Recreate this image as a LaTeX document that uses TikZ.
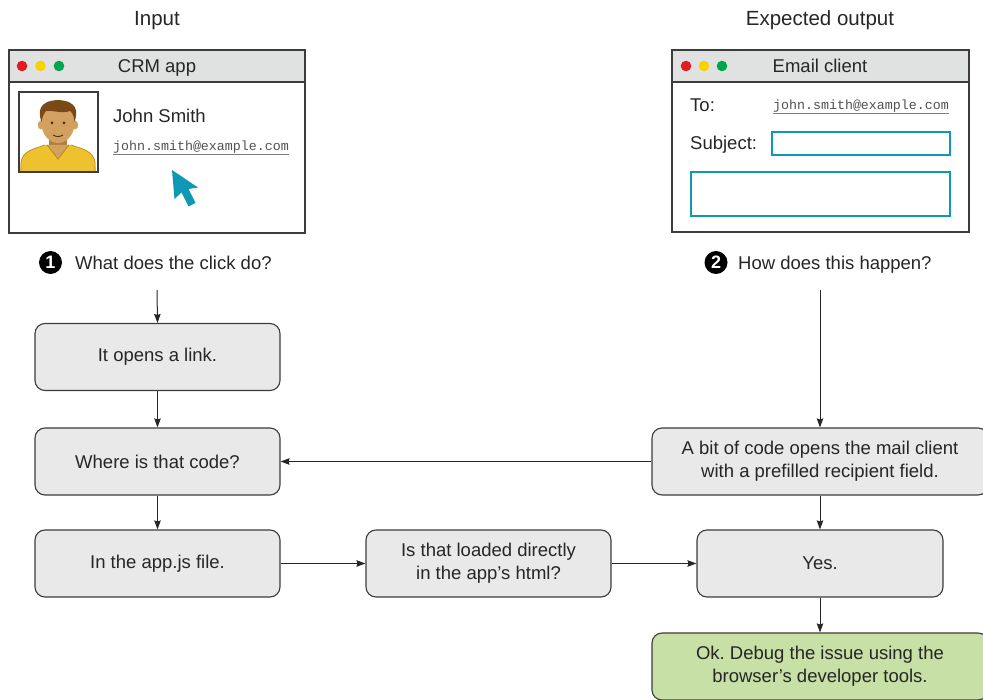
\documentclass[tikz,border=0pt]{standalone}
\usepackage{fontspec}
\setmainfont{Liberation Sans}
\newfontfamily\mailfont{Liberation Mono}
\usetikzlibrary{arrows.meta}
\definecolor{ink}{HTML}{262626}
\definecolor{edge}{HTML}{3C3C3C}
\definecolor{boxfill}{HTML}{E8E9E8}
\definecolor{okfill}{HTML}{C6E0A6}
\definecolor{barfill}{HTML}{DFE2E1}
\definecolor{teal}{HTML}{0E98B4}
\definecolor{dotred}{HTML}{E11B22}
\definecolor{dotyellow}{HTML}{F8D100}
\definecolor{dotgreen}{HTML}{00A550}
\definecolor{skin}{HTML}{D2A160}
\definecolor{skindark}{HTML}{B07E42}
\definecolor{hair}{HTML}{7A4A16}
\definecolor{shirt}{HTML}{EEC22E}
\definecolor{shirtdark}{HTML}{B88C18}
\frenchspacing
\begin{document}
\begin{tikzpicture}[x=1pt,y=-1pt,
  txt/.style={text=ink,font=\fontsize{18.5}{23}\selectfont,inner sep=0pt},
  head/.style={text=ink,font=\fontsize{20.5}{24}\selectfont,inner sep=0pt,anchor=base},
  mail/.style={text=ink!80,font=\mailfont\fontsize{13.3}{15}\selectfont,inner sep=0pt,anchor=base west},
  flowbox/.style={draw=edge,line width=1.1pt,fill=boxfill,rounded corners=10pt,
    minimum height=67pt,align=center,inner sep=0pt,text=ink,
    font=\fontsize{18.5}{23}\selectfont},
  okbox/.style={flowbox,fill=okfill},
  win/.style={draw=edge,line width=1.4pt,fill=white,inner sep=0pt},
  bar/.style={draw=edge,line width=1.4pt,fill=barfill},
  field/.style={draw=teal,line width=1.2pt},
  flow/.style={draw=ink,line width=1pt,-{Stealth[length=9pt,width=6.5pt,inset=1pt]}},
  num/.style={circle,fill=black,text=white,minimum size=23pt,inner sep=0pt,
    font=\bfseries\fontsize{18}{18}\selectfont}]
\useasboundingbox (0,0) rectangle (983,700);

% ---------- headings ----------
\node[head] (inlabel) at (157,26) {Input};
\node[head] (outlabel) at (820,26) {Expected output};

% ---------- CRM app window ----------
\node[win,minimum width=296pt,minimum height=183pt] (crm) at (157,141.5) {};
\draw[bar] (9,50) rectangle (305,82);
\fill[dotred] (22,66) circle (5.3);
\fill[dotyellow] (40.5,66) circle (5.3);
\fill[dotgreen] (59,66) circle (5.3);
\node[txt,anchor=base] (crmtitle) at (157,72.5) {CRM app};

% photo with the avatar
\begin{scope}
  \clip (19,92) rectangle (98,172);
  % shirt
  \fill[shirt]
    (20,174) -- (21,162) .. controls (23,151) and (33,149) .. (45,145)
    -- (71,145) .. controls (83,149) and (93,151) .. (95,162) -- (96,174) -- cycle;
  \draw[shirtdark,line width=0.7pt] (21,172) -- (21,162) .. controls (23,151) and (33,149) .. (45,145);
  \draw[shirtdark,line width=0.7pt] (95,172) -- (95,162) .. controls (93,151) and (83,149) .. (71,145);
  % neck
  \fill[skindark] (49,136) rectangle (67,147);
  \fill[skin] (47,145) -- (69,145) -- (58,159) -- cycle;
  \draw[shirtdark,line width=0.8pt] (47,145) -- (58,159) -- (69,145);
  % ears
  \fill[skin] (41,125) ellipse (3.2 and 4.5);
  \fill[skin] (75,125) ellipse (3.2 and 4.5);
  % face
  \fill[skin] (58,123) ellipse (16.5 and 20);
  % hair
  \fill[hair] (41.5,122) .. controls (38,112) and (38,101) .. (58,100)
    .. controls (78,101) and (78,112) .. (74.5,122)
    .. controls (74,116) and (72,112) .. (70,111)
    .. controls (62,114) and (52,110) .. (46,111)
    .. controls (44,113) and (42.5,117) .. (41.5,122) -- cycle;
  % eyes, smile
  \fill[hair!60!black] (52,123) circle (1.5);
  \fill[hair!60!black] (64,123) circle (1.5);
  \draw[hair!60!black,line width=0.9pt] (53,135) .. controls (56,137) and (60,137) .. (63,135);
\end{scope}
\draw[edge,line width=1.2pt] (19,92) rectangle (98,172);

\node[txt,anchor=base west] (name) at (113,122.5) {John Smith};
\node[mail] (crmmail) at (113,151) {john.smith@example.com};
\draw[ink!60,line width=1pt] (crmmail.base west) ++(0,4) -- ++(176,0);

% mouse pointer
\fill[teal] (172,170) -- (174.5,199) -- (181.5,192.5) -- (188.5,206.5) -- (195.5,203) -- (188.5,189) -- (198,187.5) -- cycle;

% ---------- Email client window ----------
\node[win,minimum width=297pt,minimum height=182pt] (mailwin) at (820.5,141) {};
\draw[bar] (672,50) rectangle (969,82);
\fill[dotred] (686,66) circle (5.3);
\fill[dotyellow] (704,66) circle (5.3);
\fill[dotgreen] (722,66) circle (5.3);
\node[txt,anchor=base] (mailtitle) at (820,72.5) {Email client};

\node[txt,anchor=base west] (tolabel) at (690,112) {To:};
\node[mail] (tomail) at (773,109.5) {john.smith@example.com};
\draw[ink!60,line width=1pt] (tomail.base west) ++(0,4) -- ++(176,0);
\node[txt,anchor=base west] (subjlabel) at (690,150) {Subject:};
\draw[field] (772,132) rectangle (950,155);
\draw[field] (691,172) rectangle (950,216);

% ---------- questions ----------
\node[num] (n1) at (50.5,262.5) {1};
\node[txt,anchor=base west] (q1) at (75,269.5) {What does the click do?};
\node[num] (n2) at (716,262.5) {2};
\node[txt,anchor=base west] (q2) at (738,269.5) {How does this happen?};
\coordinate (q1out) at (157,290);
\coordinate (q2out) at (820,290);

% ---------- flow ----------
\node[flowbox,minimum width=245pt] (link) at (157.5,357) {It opens a link.};
\node[flowbox,minimum width=245pt] (where) at (157.5,461.5) {Where is that code?};
\node[flowbox,minimum width=245pt] (appjs) at (157.5,563.5) {In the app.js file.};
\node[flowbox,minimum width=245pt] (loaded) at (488.5,563.5) {Is that loaded directly\\in the app’s html?};
\node[flowbox,minimum width=336pt] (code) at (820,461.5) {A bit of code opens the mail client\\with a prefilled recipient field.};
\node[flowbox,minimum width=246pt] (yes) at (820,563.5) {Yes.};
\node[okbox,minimum width=336pt] (ok) at (820,666.5) {Ok. Debug the issue using the\\browser’s developer tools.};

\draw[flow] (q1out) -- (link.north);
\draw[flow] (link.south) -- (where.north);
\draw[flow] (where.south) -- (appjs.north);
\draw[flow] (appjs.east) -- (loaded.west);
\draw[flow] (loaded.east) -- (yes.west);
\draw[flow] (q2out) -- (code.north);
\draw[flow] (code.west) -- (where.east);
\draw[flow] (code.south) -- (yes.north);
\draw[flow] (yes.south) -- (ok.north);
\end{tikzpicture}
\end{document}
